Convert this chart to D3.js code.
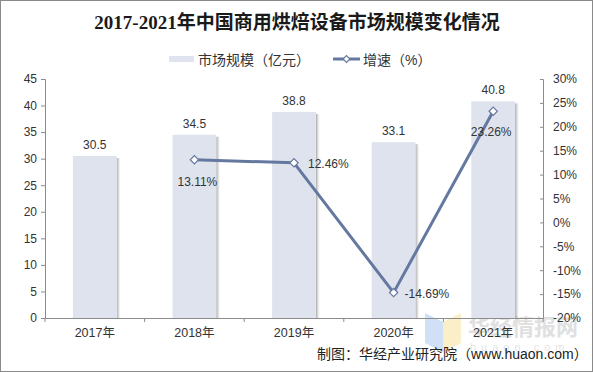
<!DOCTYPE html>
<html>
<head>
<meta charset="utf-8">
<script src="https://cdn.jsdelivr.net/npm/d3@7"></script>
<style>
  body { margin: 0; background: #fff; }
  svg { display: block; }
  text { font-family: "Liberation Sans", Arial, "Noto Sans CJK SC", sans-serif; }
</style>
</head>
<body>
<div id="vis-container"></div>
<script>
// data
years = ["2017年", "2018年", "2019年", "2020年", "2021年"]
marketSize = [30.5, 34.5, 38.8, 33.1, 40.8]
growthYears = ["2018年", "2019年", "2020年", "2021年"]
growthRate = [13.11, 12.46, -14.69, 23.26]
leftTicks = [0, 5, 10, 15, 20, 25, 30, 35, 40, 45]
rightTicks = [-20, -15, -10, -5, 0, 5, 10, 15, 20, 25, 30]

chart = {
  "width": 593, "height": 372,
  "plot": { "left": 45, "right": 543, "top": 79, "bottom": 318 },
  "barColor": "#dee3ed",
  "lineColor": "#6578a0",
  "axisColor": "#8c8c8c"
}

svg = d3.select("#vis-container").append("svg").attr("width", chart.width).attr("height", chart.height)

// frame
svg.append("rect").attr("x", 0.5).attr("y", 0.5).attr("width", chart.width - 1).attr("height", chart.height - 1)
  .attr("fill", "#fff").attr("stroke", "#8a8a8a")

defs = svg.append("defs")
grad = defs.append("linearGradient").attr("id", "shadow")
grad.append("stop").attr("offset", "0%").attr("stop-color", "#8f8f8f").attr("stop-opacity", 0.8)
grad.append("stop").attr("offset", "100%").attr("stop-color", "#cfcfcf").attr("stop-opacity", 0)

let x = d3.scaleBand().domain(years).range([chart.plot.left, chart.plot.right]).paddingInner(0.56).paddingOuter(0.28)
let yLeft = d3.scaleLinear().domain([0, 45]).range([chart.plot.bottom, chart.plot.top])
let yRight = d3.scaleLinear().domain([-20, 30]).range([chart.plot.bottom, chart.plot.top])
let xCenter = d => x(d) + x.bandwidth() / 2

// title
svg.append("text").attr("x", 297).attr("y", 29).attr("text-anchor", "middle")
  .style("font-family", "'Liberation Serif', 'DejaVu Serif', 'Noto Sans CJK SC', serif")
  .style("font-weight", "bold").style("font-size", "19px").attr("fill", "#1a1a1a")
  .text("2017-2021年中国商用烘焙设备市场规模变化情况")

// legend
let legend = svg.append("g")
legend.append("rect").attr("x", 169).attr("y", 56).attr("width", 25).attr("height", 6).attr("fill", chart.barColor)
legend.append("text").attr("x", 198).attr("y", 65).style("font-size", "14px").attr("fill", "#333").text("市场规模（亿元）")
legend.append("line").attr("x1", 333).attr("x2", 360).attr("y1", 59).attr("y2", 59)
  .attr("stroke", chart.lineColor).attr("stroke-width", 3)
legend.append("path").attr("d", d3.symbol(d3.symbolDiamond2, 30)()).attr("transform", "translate(346.5,59)")
  .attr("fill", "#fff").attr("stroke", chart.lineColor).attr("stroke-width", 1.2)
legend.append("text").attr("x", 363).attr("y", 65).style("font-size", "14px").attr("fill", "#333").text("增速（%）")

// watermark
let wm = svg.append("g").attr("opacity", 0.55)
wm.append("path").attr("d", "M425,313 L443,322 L443,352 L425,343 Z").attr("fill", "#a9c8f2")
wm.append("path").attr("d", "M443,322 L461,313 L461,343 L443,352 Z").attr("fill", "#f7e39a")
wm.append("text").attr("x", 468).attr("y", 335).style("font-size", "22px").style("font-weight", "bold")
  .attr("fill", "#c8c8c8").text("华经情报网")
wm.append("text").attr("x", 470).attr("y", 351).style("font-size", "11px").style("letter-spacing", "5px")
  .attr("fill", "#d0d0d0").text("huaon.com")

// bars with a soft right-hand shadow
let bars = svg.append("g").selectAll("g").data(years).enter().append("g")
bars.append("rect").attr("x", d => x(d) + x.bandwidth()).attr("y", (d, i) => yLeft(marketSize[i]) + 2)
  .attr("width", 4).attr("height", (d, i) => chart.plot.bottom - yLeft(marketSize[i]) - 2).attr("fill", "url(#shadow)")
bars.append("rect").attr("x", d => x(d)).attr("y", (d, i) => yLeft(marketSize[i]))
  .attr("width", x.bandwidth()).attr("height", (d, i) => chart.plot.bottom - yLeft(marketSize[i]))
  .attr("fill", chart.barColor)
bars.append("text").attr("x", d => xCenter(d)).attr("y", (d, i) => yLeft(marketSize[i]) - 7)
  .attr("text-anchor", "middle").style("font-size", "12px").attr("fill", "#333")
  .text((d, i) => marketSize[i].toFixed(1))

// axes
let leftAxis = svg.append("g").attr("transform", "translate(" + chart.plot.left + ",0)")
  .call(d3.axisLeft(yLeft).tickValues(leftTicks).tickSize(4).tickPadding(4))
let rightAxis = svg.append("g").attr("transform", "translate(" + chart.plot.right + ",0)")
  .call(d3.axisRight(yRight).tickValues(rightTicks).tickSize(-3).tickPadding(10).tickFormat(d => d + "%"))
let xAxis = svg.append("g").attr("transform", "translate(0," + chart.plot.bottom + ")")
  .call(d3.axisBottom(x).tickSize(0).tickPadding(10))
let boundaries = d3.range(years.length + 1).map(i => chart.plot.left + i * (chart.plot.right - chart.plot.left) / years.length)
xAxis.selectAll(".bound").data(boundaries).enter().append("line").attr("class", "bound")
  .attr("x1", d => d).attr("x2", d => d).attr("y1", 0).attr("y2", 4)

for (let a of [leftAxis, rightAxis, xAxis]) {
  a.selectAll("path.domain").attr("stroke", chart.axisColor)
  a.selectAll("line").attr("stroke", chart.axisColor)
  a.selectAll("text").style("font-size", "12px").attr("fill", "#333")
    .style("font-family", "'Liberation Sans', Arial, 'Noto Sans CJK SC', sans-serif")
}
xAxis.selectAll(".tick text").style("font-size", "12.5px")

// growth line
let line = d3.line().x(d => xCenter(d[0])).y(d => yRight(d[1]))
let pts = growthYears.map((d, i) => [d, growthRate[i]])
svg.append("path").datum(pts).attr("d", line).attr("fill", "none")
  .attr("stroke", chart.lineColor).attr("stroke-width", 3).attr("stroke-linejoin", "round")
svg.append("g").selectAll("path").data(pts).enter().append("path")
  .attr("d", d3.symbol(d3.symbolDiamond2, 44)())
  .attr("transform", d => "translate(" + xCenter(d[0]) + "," + yRight(d[1]) + ")")
  .attr("fill", "#fff").attr("stroke", chart.lineColor).attr("stroke-width", 1.2)

// growth labels: [dx, dy, anchor]
let labelPos = [[3, 26, "middle"], [14, 5, "start"], [11, 5, "start"], [-2, 25, "middle"]]
svg.append("g").selectAll("text").data(pts).enter().append("text")
  .attr("x", (d, i) => xCenter(d[0]) + labelPos[i][0])
  .attr("y", (d, i) => yRight(d[1]) + labelPos[i][1])
  .attr("text-anchor", (d, i) => labelPos[i][2])
  .style("font-size", "12px").attr("fill", "#333")
  .text(d => d[1].toFixed(2) + "%")

// source note
svg.append("text").attr("x", 317).attr("y", 359).style("font-size", "14px").attr("fill", "#222")
  .text("制图：华经产业研究院（www.huaon.com）")
</script>
</body>
</html>
